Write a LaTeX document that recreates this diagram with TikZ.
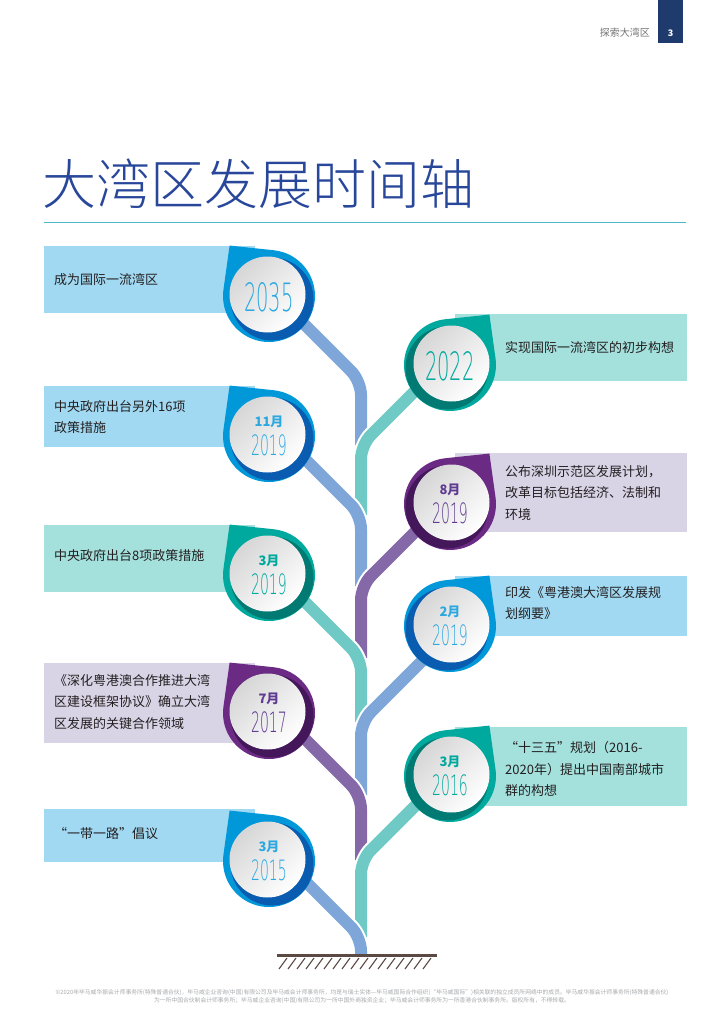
\documentclass[tikz,border=0pt]{standalone}
\usepackage{fontspec}
\usepackage{graphicx}
\usetikzlibrary{calc}

\setmainfont{Noto Sans CJK SC}
\IfFontExistsTF{Noto Sans CJK SC Light}
  {\newfontfamily\titlefont{Noto Sans CJK SC Light}}
  {\newfontfamily\titlefont{Noto Sans CJK SC}}
\IfFontExistsTF{DejaVu Sans ExtraLight}
  {\newfontfamily\yearfont{DejaVu Sans ExtraLight}[FakeStretch=0.5]}
  {\IfFontExistsTF{Lato Light}
    {\newfontfamily\yearfont{Lato Light}[FakeStretch=0.6]}
    {\newfontfamily\yearfont{DejaVu Sans}[FakeStretch=0.5]}}

\definecolor{pinblue}{HTML}{0098D9}
\definecolor{pinbluedk}{HTML}{0A5CB0}
\definecolor{pinteal}{HTML}{00A99D}
\definecolor{pintealdk}{HTML}{007A72}
\definecolor{pinpurple}{HTML}{6B2A83}
\definecolor{pinpurpledk}{HTML}{43175A}
\definecolor{banblue}{HTML}{A1D9F2}
\definecolor{banteal}{HTML}{A4E1DD}
\definecolor{banpurple}{HTML}{D9D3E6}
\definecolor{stemblue}{HTML}{7EA6D9}
\definecolor{stemteal}{HTML}{6FCAC5}
\definecolor{stempurple}{HTML}{8468A8}
\definecolor{yrblue}{HTML}{2CA8E0}
\definecolor{yrteal}{HTML}{00A99D}
\definecolor{yrpurple}{HTML}{5E3A90}
\definecolor{titleblue}{HTML}{28479A}
\definecolor{ruleteal}{HTML}{4BBAC4}
\definecolor{pagenavy}{HTML}{1F3A6C}
\definecolor{groundbrown}{HTML}{5B4A43}
\definecolor{txtdark}{HTML}{231F20}
\definecolor{footgray}{HTML}{A7A9AC}

% pin: #1 centre, #2 tip angle, #3 ring, #4 shadow, #5 side (1 left, -1 right)
\newcommand{\timepin}[5]{%
  \fill[#3] ($(#1)+({#2}:64)$) -- ($(#1)+({#2+44}:46)$)
    arc[start angle={#2+44}, end angle={#2+316}, radius=46] -- cycle;
  \fill[#4] ($(#1)+({3*#5},3)$) circle[radius=41.5];
  \shade[top color=black!16, bottom color=white, shading angle=45]
    ($(#1)+({-1.5*#5},-1.5)$) circle[radius=38];
}

\begin{document}
\begin{tikzpicture}[x=1pt, y={(0pt,-1pt)},
  stemline/.style={line width=2, white, double=#1, double distance=12, rounded corners=14},
  bantxt/.style={anchor=west, inner sep=0, align=left, text=txtdark,
    font=\fontsize{13}{21.5}\selectfont},
  monthtxt/.style={inner sep=0, font=\bfseries\fontsize{13}{13}\selectfont},
  yeartxt/.style={inner sep=0, font=\yearfont\fontsize{28}{28}\selectfont},
  bigyear/.style={inner sep=0, font=\yearfont\fontsize{39}{39}\selectfont}]
\useasboundingbox (0,0) rectangle (724,1024);

% header:
\fill[pagenavy] (658,0) rectangle (683,43);
\node[inner sep=0, text=white, font=\bfseries\fontsize{9}{9}\selectfont] (page) at (670.5,33) {3};
\node[inner sep=0, anchor=east, text=black!55, font=\fontsize{10}{10}\selectfont] (runhead) at (650,33) {探索大湾区};

% title:
\node[inner sep=0, anchor=west, text=titleblue, font=\titlefont\fontsize{54}{54}\selectfont] (title) at (42,184) {大湾区发展时间轴};
\coordinate (ruleL) at (44,222);
\coordinate (ruleR) at (686,222);
\draw[ruleteal, line width=0.8] (ruleL) -- (ruleR);

% pin centres:
\coordinate (c2035) at (269,296);
\coordinate (c1119) at (269,436);
\coordinate (c0319) at (269,575);
\coordinate (c0717) at (269,713);
\coordinate (c0315) at (269,861);
\coordinate (c2022) at (450,365);
\coordinate (c0819) at (450,504);
\coordinate (c0219) at (450,626);
\coordinate (c0316) at (450,776);

% banners:
\fill[banblue] (44,246) rectangle (255,313);
\fill[banblue] (44,386) rectangle (255,447);
\fill[banteal] (44,525) rectangle (255,592);
\fill[banpurple] (44,663) rectangle (255,743);
\fill[banblue] (44,809) rectangle (255,862);
\fill[banteal] (455,314) rectangle (687,381);
\fill[banpurple] (455,453) rectangle (687,532);
\fill[banblue] (455,576) rectangle (687,636);
\fill[banteal] (455,727) rectangle (687,806);

\node[bantxt] (t2035) at (54,280) {成为国际一流湾区};
\node[bantxt] (t1119) at (54,417) {中央政府出台另外16项\\政策措施};
\node[bantxt] (t0319) at (54,556) {中央政府出台8项政策措施};
\node[bantxt] (t0717) at (54,702) {《深化粤港澳合作推进大湾\\区建设框架协议》确立大湾\\区发展的关键合作领域};
\node[bantxt] (t0315) at (54,834) {“一带一路”倡议};
\node[bantxt] (t2022) at (505,347) {实现国际一流湾区的初步构想};
\node[bantxt] (t0819) at (505,493) {公布深圳示范区发展计划，\\改革目标包括经济、法制和\\环境};
\node[bantxt] (t0219) at (505,603) {印发《粤港澳大湾区发展规\\划纲要》};
\node[bantxt] (t0316) at (505,769) {“十三五”规划（2016-\\2020年）提出中国南部城市\\群的构想};

% trunk junctions:
\coordinate (j1) at (361,381);
\coordinate (j2) at (361,445);
\coordinate (j3) at (361,515);
\coordinate (j4) at (361,586);
\coordinate (j5) at (361,658);
\coordinate (j6) at (361,722);
\coordinate (j7) at (361,795);
\coordinate (j8) at (361,860);
\coordinate (j9) at (361,937);
\coordinate (root) at (361,955);

% stems:
\draw[stemline=stemblue] ($(j1)+(-92,-92)$) -- (j1) -- (j2);
\draw[stemline=stemteal] ($(j2)+(89,-89)$) -- (j2) -- (j3);
\draw[stemline=stemblue] ($(j3)+(-92,-92)$) -- (j3) -- (j4);
\draw[stemline=stempurple] ($(j4)+(89,-89)$) -- (j4) -- (j5);
\draw[stemline=stemteal] ($(j5)+(-92,-92)$) -- (j5) -- (j6);
\draw[stemline=stemblue] ($(j6)+(89,-89)$) -- (j6) -- (j7);
\draw[stemline=stempurple] ($(j7)+(-92,-92)$) -- (j7) -- (j8);
\draw[stemline=stemteal] ($(j8)+(89,-89)$) -- (j8) -- (j9);
\draw[stemline=stemblue] ($(j9)+(-92,-92)$) -- (j9) -- (root);

% ground:
\coordinate (groundL) at (277,955);
\coordinate (groundR) at (437,955);
\draw[groundbrown, line width=3] (groundL) -- (groundR);
\foreach \hx in {287,296,...,437}
  \draw[groundbrown, line width=1.1] (\hx,958) -- ++(-8,11);

% pins:
\timepin{c2035}{-128}{pinblue}{pinbluedk}{1}
\timepin{c1119}{-128}{pinblue}{pinbluedk}{1}
\timepin{c0319}{-128}{pinteal}{pintealdk}{1}
\timepin{c0717}{-128}{pinpurple}{pinpurpledk}{1}
\timepin{c0315}{-128}{pinblue}{pinbluedk}{1}
\timepin{c2022}{-52}{pinteal}{pintealdk}{-1}
\timepin{c0819}{-52}{pinpurple}{pinpurpledk}{-1}
\timepin{c0219}{-52}{pinblue}{pinbluedk}{-1}
\timepin{c0316}{-52}{pinteal}{pintealdk}{-1}

% dates:
\node[bigyear, text=yrblue] (y2035) at ($(c2035)+(0,1)$) {2035};
\node[bigyear, text=yrteal] (y2022) at ($(c2022)+(0,1)$) {2022};
\node[monthtxt, text=yrblue] (m1119) at ($(c1119)+(0,-14)$) {11月};
\node[yeartxt, text=yrblue] (y1119) at ($(c1119)+(0,9)$) {2019};
\node[monthtxt, text=yrteal] (m0319) at ($(c0319)+(0,-14)$) {3月};
\node[yeartxt, text=yrteal] (y0319) at ($(c0319)+(0,9)$) {2019};
\node[monthtxt, text=yrpurple] (m0717) at ($(c0717)+(0,-14)$) {7月};
\node[yeartxt, text=yrpurple] (y0717) at ($(c0717)+(0,9)$) {2017};
\node[monthtxt, text=yrblue] (m0315) at ($(c0315)+(0,-14)$) {3月};
\node[yeartxt, text=yrblue] (y0315) at ($(c0315)+(0,9)$) {2015};
\node[monthtxt, text=yrpurple] (m0819) at ($(c0819)+(0,-14)$) {8月};
\node[yeartxt, text=yrpurple] (y0819) at ($(c0819)+(0,9)$) {2019};
\node[monthtxt, text=yrblue] (m0219) at ($(c0219)+(0,-14)$) {2月};
\node[yeartxt, text=yrblue] (y0219) at ($(c0219)+(0,9)$) {2019};
\node[monthtxt, text=yrteal] (m0316) at ($(c0316)+(0,-14)$) {3月};
\node[yeartxt, text=yrteal] (y0316) at ($(c0316)+(0,9)$) {2016};

% footer:
\node[inner sep=0, align=center, text=footgray, font=\fontsize{5.8}{8}\selectfont] (foot) at (362,997)
  {©2020年毕马威华振会计师事务所(特殊普通合伙)，毕马威企业咨询(中国)有限公司及毕马威会计师事务所，均是与瑞士实体—毕马威国际合作组织(“毕马威国际”)相关联的独立成员所网络中的成员。毕马威华振会计师事务所(特殊普通合伙)\\
   为一所中国合伙制会计师事务所；毕马威企业咨询(中国)有限公司为一所中国外商独资企业；毕马威会计师事务所为一所香港合伙制事务所。版权所有，不得转载。};
\end{tikzpicture}
\end{document}
